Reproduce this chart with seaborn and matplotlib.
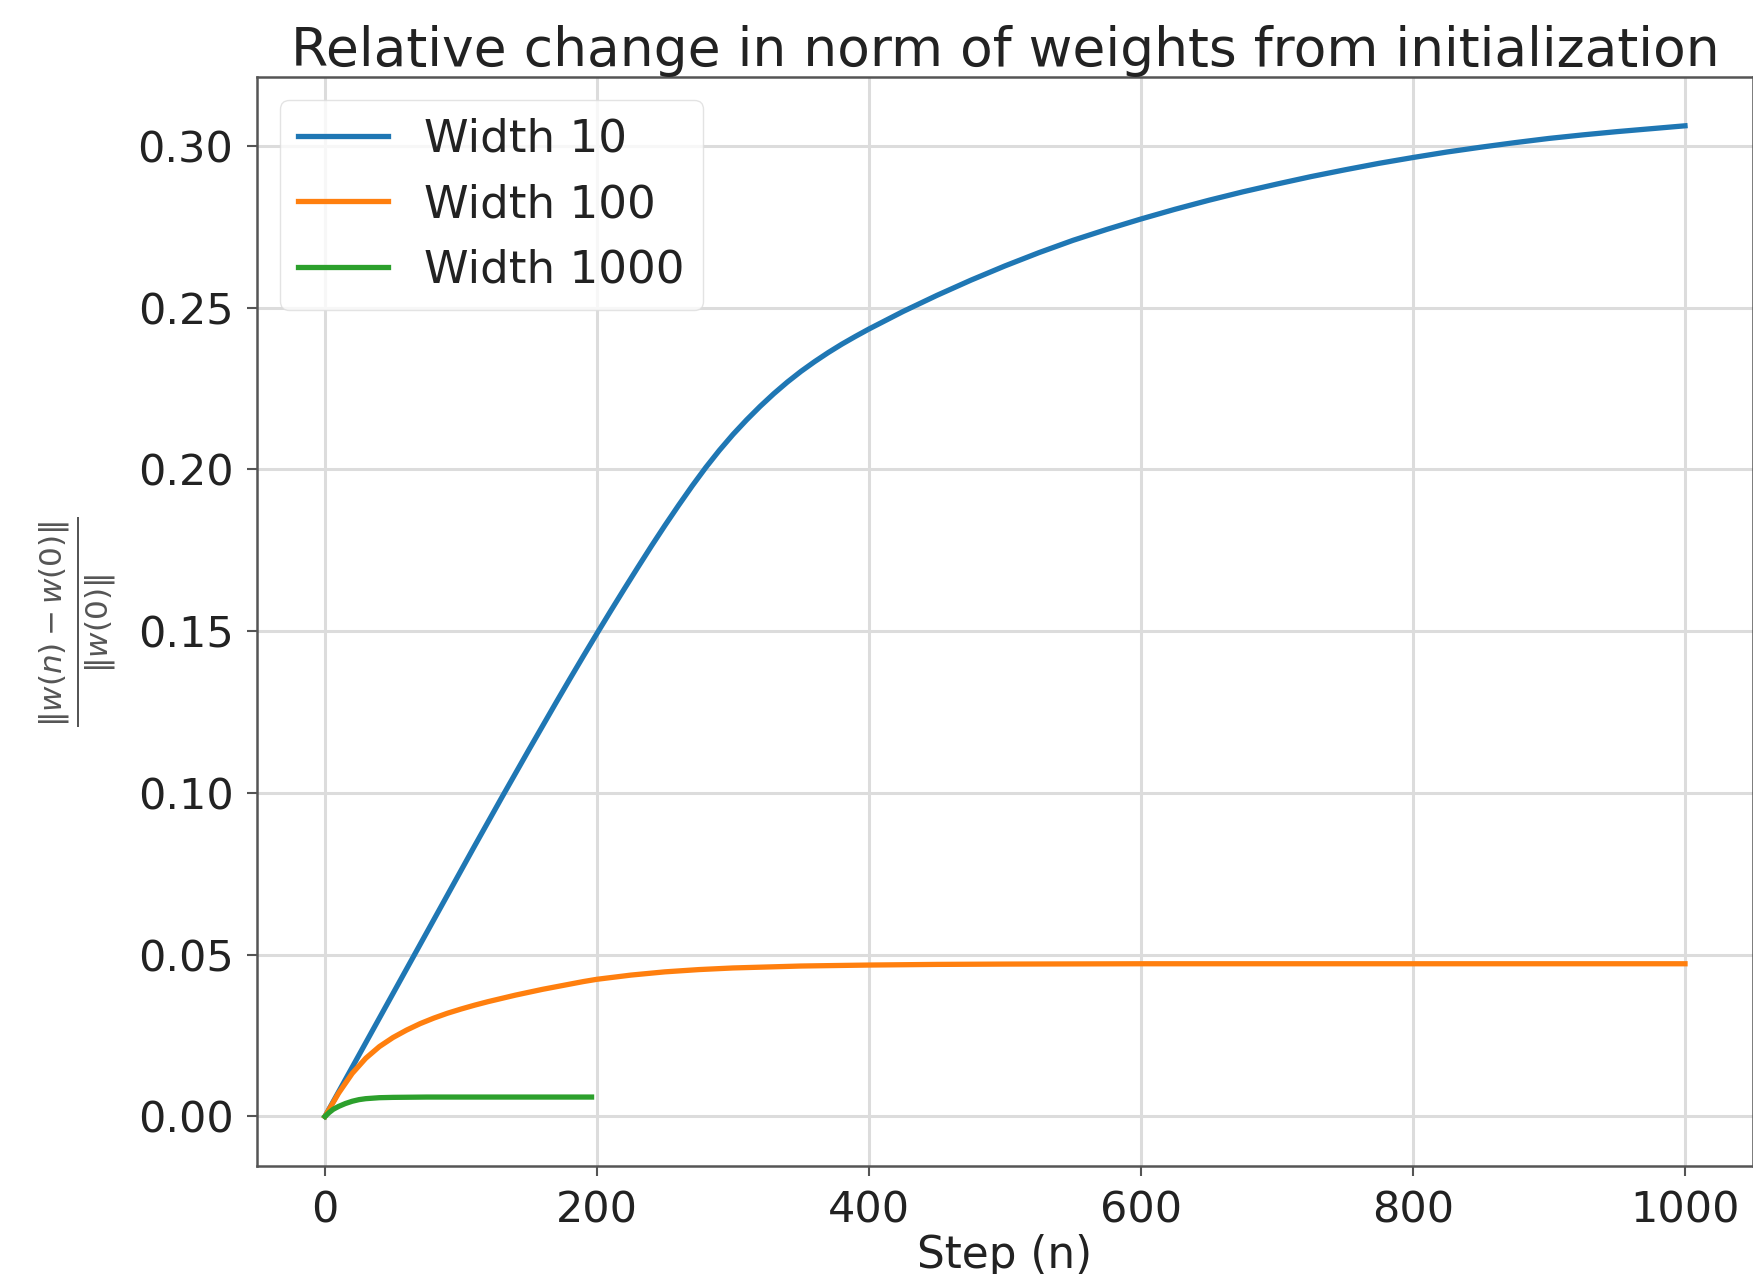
import matplotlib
matplotlib.use("Agg")
import matplotlib.pyplot as plt
import seaborn as sns
import pandas as pd

# ---- data ----
steps_w10 = [0, 10, 20, 30, 40, 50, 60, 70, 80, 90, 100, 110, 120, 130, 140, 150, 160, 170,
             180, 190, 200, 210, 220, 230, 240, 250, 260, 270, 280, 290, 300, 310, 320, 330,
             340, 350, 360, 370, 380, 390, 400, 425, 450, 475, 500, 525, 550, 575, 600, 625,
             650, 675, 700, 725, 750, 775, 800, 825, 850, 875, 900, 925, 950, 975, 1000]
vals_w10 = [0.0, 0.0076, 0.0152, 0.0228, 0.0304, 0.0380, 0.0456, 0.0532, 0.0608, 0.0684,
            0.0760, 0.0836, 0.0911, 0.0986, 0.1060, 0.1134, 0.1207, 0.1280, 0.1352, 0.1423,
            0.1493, 0.1562, 0.1630, 0.1697, 0.1763, 0.1827, 0.1889, 0.1949, 0.2006, 0.2059,
            0.2108, 0.2153, 0.2195, 0.2234, 0.2270, 0.2303, 0.2333, 0.2361, 0.2387, 0.2411,
            0.2434, 0.2488, 0.2538, 0.2585, 0.2629, 0.2670, 0.2708, 0.2742, 0.2774, 0.2804,
            0.2832, 0.2858, 0.2882, 0.2905, 0.2926, 0.2946, 0.2964, 0.2981, 0.2996, 0.3010,
            0.3023, 0.3034, 0.3044, 0.3053, 0.3062]

steps_w100 = [0, 10, 20, 30, 40, 50, 60, 70, 80, 90, 100, 110, 120, 130, 140, 150, 160, 170,
              180, 190, 200, 225, 250, 275, 300, 350, 400, 450, 500, 600, 700, 800, 900, 1000]
vals_w100 = [0.0, 0.0072, 0.0133, 0.0180, 0.0216, 0.0244, 0.0267, 0.0287, 0.0304, 0.0319,
             0.0332, 0.0344, 0.0355, 0.0365, 0.0375, 0.0384, 0.0393, 0.0401, 0.0409, 0.0417,
             0.0424, 0.0437, 0.0447, 0.0454, 0.0459, 0.0465, 0.0468, 0.0470, 0.0471, 0.0472,
             0.0472, 0.0472, 0.0472, 0.0472]

steps_w1000 = [0, 3, 6, 10, 15, 20, 25, 30, 40, 50, 75, 100, 150, 196]
vals_w1000 = [0.0, 0.0012, 0.0022, 0.0031, 0.0040, 0.0047, 0.0052, 0.0055, 0.0058, 0.0059,
              0.0060, 0.0060, 0.0060, 0.0060]

series_labels = ["Width 10", "Width 100", "Width 1000"]
colors = ["#1f77b4", "#ff7f0e", "#2ca02c"]

x_ticks = [0, 200, 400, 600, 800, 1000]
y_ticks = [0.00, 0.05, 0.10, 0.15, 0.20, 0.25, 0.30]

frames = []
for lab, s, v in zip(series_labels, [steps_w10, steps_w100, steps_w1000],
                     [vals_w10, vals_w100, vals_w1000]):
    frames.append(pd.DataFrame({"step": s, "value": v, "series": lab}))
df = pd.concat(frames, ignore_index=True)

plt.rcParams['font.family'] = ['DejaVu Sans']

fig = plt.figure(figsize=(17.53, 12.74), dpi=100)
ax = fig.add_axes([0.1466, 0.0848, 0.8534, 0.8548])

sns.lineplot(data=df, x="step", y="value", hue="series", hue_order=series_labels,
             palette=colors, linewidth=3.8, ax=ax, legend=True)

ax.set_xlim(-50, 1050)
ax.set_ylim(-0.0153, 0.3213)
ax.set_xticks(x_ticks)
ax.set_xticklabels([str(t) for t in x_ticks])
ax.set_yticks(y_ticks)
ax.set_yticklabels([f"{t:.2f}" for t in y_ticks])

ax.grid(True, color="#dcdcdc", linewidth=2.2)
ax.set_axisbelow(True)
for sp in ax.spines.values():
    sp.set_color("#555555")
    sp.set_linewidth(1.8)
ax.tick_params(axis="both", labelsize=31, length=7, width=1.5, color="#555555",
               pad=10, labelcolor="#222222")

ax.set_title("Relative change in norm of weights from initialization", fontsize=38.5,
             color="#222222", pad=8)
ax.set_xlabel("Step (n)", fontsize=31.5, color="#222222", labelpad=2)
ax.set_ylabel(r"$\frac{\|w(n) - w(0)\|}{\|w(0)\|}$", fontsize=32, color="#555555", labelpad=14)

leg = ax.legend(loc="upper left", fontsize=32.5, frameon=True, handlelength=2.0,
                borderaxespad=0.5)
leg.get_frame().set_edgecolor("#dddddd")
for t in leg.get_texts():
    t.set_color("#222222")
for l in leg.get_lines():
    l.set_linewidth(3.8)

fig.savefig("out.png", dpi=100)
